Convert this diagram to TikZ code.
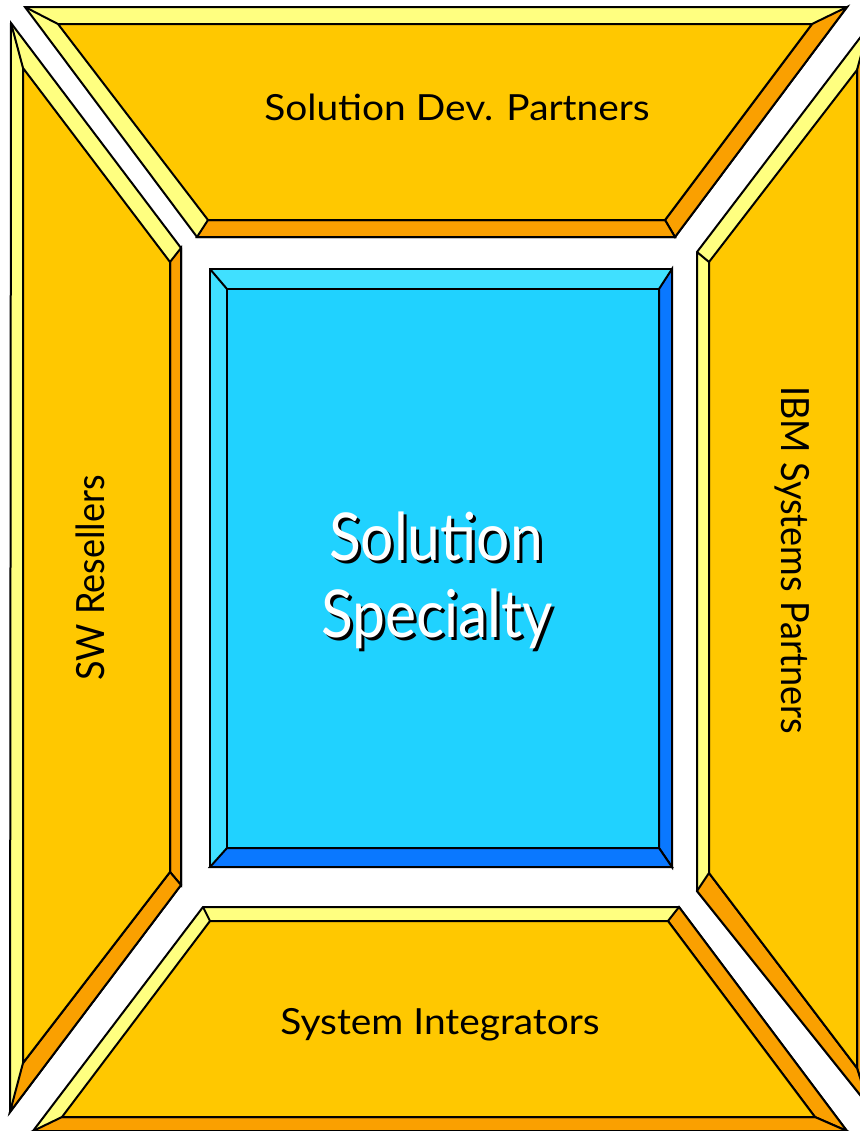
\documentclass[tikz,border=0pt]{standalone}
\usepackage{fontspec}
\setmainfont{Lato}
\definecolor{gold}{HTML}{FFC800}
\definecolor{goldlight}{HTML}{FFFF80}
\definecolor{golddark}{HTML}{FAA000}
\definecolor{cyanmain}{HTML}{20D2FF}
\definecolor{cyanlight}{HTML}{40E0FF}
\definecolor{cyandark}{HTML}{0A78FF}
\newcommand\bevelbox[4]{%
 \filldraw[fill=#2,edge] (#1A)--(#1B)--(#1C)--(#1D)--cycle;
 \filldraw[fill=#4,edge] (#1B)--(#1C)--(#1c)--(#1b)--cycle;
 \filldraw[fill=#4,edge] (#1C)--(#1D)--(#1d)--(#1c)--cycle;
 \draw[edge] (#1A)--(#1a);
 \filldraw[fill=#3,edge] (#1a)--(#1b)--(#1c)--(#1d)--cycle;
}
\begin{document}
\begin{tikzpicture}[x=0.5pt,y=-0.5pt,
  edge/.style={draw=black,line width=1pt},
  label/.style={font=\fontsize{18}{22}\selectfont,text=black,inner sep=0pt,anchor=base,xscale=1.08},
  big/.style={font=\fontsize{33}{38}\selectfont,inner sep=0pt,anchor=base,xscale=0.89}]
\useasboundingbox (0,0) rectangle (860,1131);
% top panel
\coordinate (tA) at (25,7);   \coordinate (tB) at (847,7);
\coordinate (tC) at (675,237); \coordinate (tD) at (197,237);
\coordinate (ta) at (58,24);  \coordinate (tb) at (812,24);
\coordinate (tc) at (665,220); \coordinate (td) at (208,220);
% left panel
\coordinate (lA) at (11,23);   \coordinate (lB) at (181,248);
\coordinate (lC) at (181,885); \coordinate (lD) at (10,1112);
\coordinate (la) at (23,68);   \coordinate (lb) at (170,262);
\coordinate (lc) at (170,872); \coordinate (ld) at (23,1063);
% right panel
\coordinate (rA) at (697,252); \coordinate (rB) at (869,26);
\coordinate (rC) at (869,1106); \coordinate (rD) at (697,891);
\coordinate (ra) at (709,262); \coordinate (rb) at (857,70);
\coordinate (rc) at (857,1068); \coordinate (rd) at (709,873);
% bottom panel
\coordinate (bA) at (203,907); \coordinate (bB) at (679,907);
\coordinate (bC) at (847,1131); \coordinate (bD) at (33,1131);
\coordinate (ba) at (210,921); \coordinate (bb) at (668,921);
\coordinate (bc) at (815,1117); \coordinate (bd) at (62,1117);
% centre box
\coordinate (cA) at (210,269); \coordinate (cB) at (672,269);
\coordinate (cC) at (672,867); \coordinate (cD) at (210,867);
\coordinate (ca) at (227,289); \coordinate (cb) at (659,289);
\coordinate (cc) at (659,848); \coordinate (cd) at (227,848);

\bevelbox{t}{goldlight}{gold}{golddark}
\bevelbox{l}{goldlight}{gold}{golddark}
\bevelbox{r}{goldlight}{gold}{golddark}
\bevelbox{b}{goldlight}{gold}{golddark}
\bevelbox{c}{cyanlight}{cyanmain}{cyandark}

\node[label] (toptext) at (457,120) {Solution Dev. Partners};
\node[label] (bottomtext) at (440,1034) {System Integrators};
\node[label,rotate=90] (lefttext) at (104,578) {SW Resellers};
\node[label,rotate=-90] (righttext) at (781,560) {IBM Systems Partners};

\node[big,text=black] (sol1s) at (439,563) {Solution};
\node[big,text=white] (sol1) at (436,560) {Solution};
\node[big,text=black] (sol2s) at (440,640) {Specialty};
\node[big,text=white] (sol2) at (437,637) {Specialty};
\end{tikzpicture}
\end{document}
